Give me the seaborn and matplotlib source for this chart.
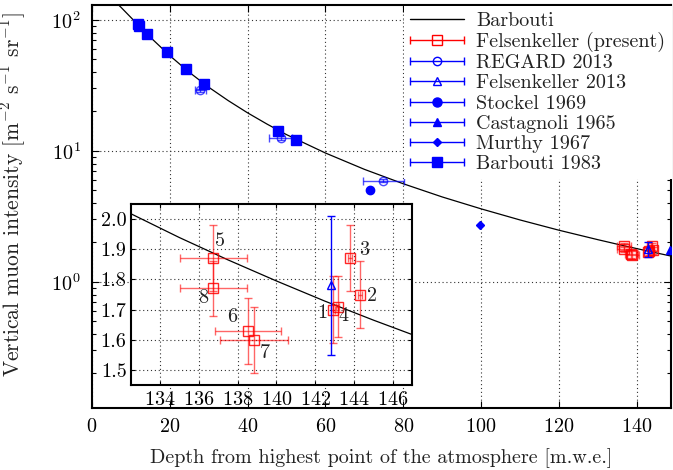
import numpy as np
import pandas as pd
import matplotlib
matplotlib.use("Agg")
import matplotlib.pyplot as plt
import seaborn as sns
from matplotlib.lines import Line2D
from matplotlib.legend_handler import HandlerBase
from matplotlib.ticker import MultipleLocator, FixedLocator

# ---------------- data ----------------
curve_depth = [0, 2.5, 5, 7.5, 10, 12.5, 15, 20, 25, 30, 35, 40, 45, 50, 60, 70, 80,
               90, 100, 110, 120, 130, 132.5, 135, 137.5, 140, 142.5, 145, 147.5, 150]
curve_int = [180.5, 167.6, 146.4, 124.3, 104.3, 87.5, 73.6, 53.3, 39.8, 30.6, 24.2,
             19.5, 16.0, 13.3, 9.63, 7.23, 5.61, 4.45, 3.61, 2.97, 2.48, 2.100, 2.018,
             1.939, 1.865, 1.795, 1.728, 1.665, 1.605, 1.547]

fk_labels = ["1", "2", "3", "4", "5", "6", "7", "8"]
fk_depth = [142.9, 144.3, 143.8, 143.15, 136.75, 138.55, 138.85, 136.75]
fk_int = [1.70, 1.75, 1.87, 1.71, 1.87, 1.63, 1.60, 1.77]
fk_ierr = [0.11, 0.11, 0.11, 0.10, 0.11, 0.11, 0.11, 0.09]
fk_derr = [0.1, 0.1, 0.1, 0.1, 1.72, 1.70, 1.74, 1.72]

regard_depth = [27.8, 48.5, 74.9]
regard_int = [28.9, 12.6, 5.94]
regard_derr = [1.4, 2.9, 5.3]
regard_ierr = [0.9, 0.4, 0.2]

fk13_depth = [142.8]
fk13_int = [1.78]
fk13_ierr = [0.23]

stockel_depth = [71.5]
stockel_int = [5.07]

castagnoli_depth = [148.6]
castagnoli_int = [1.74]

murthy_depth = [99.8]
murthy_int = [2.72]

barb83_depth = [11.7, 12.2, 14.2, 19.4, 24.2, 28.9, 47.7, 52.3]
barb83_int = [93.2, 89.5, 77.8, 56.6, 42.1, 32.3, 14.1, 12.1]

# label positions for the inset annotations (layout only)
label_xy = [(142.35, 1.688), (144.95, 1.746), (144.5, 1.898), (143.45, 1.677),
            (137.1, 1.928), (137.7, 1.675), (139.4, 1.556), (136.25, 1.738)]

# ---------------- style ----------------
sns.set_theme(style="ticks")
FS = 14.5
plt.rcParams.update({
    "font.family": ["cmr10", "DejaVu Serif"],
    "mathtext.fontset": "cm",
    "axes.formatter.use_mathtext": True,
    "font.size": FS,
    "axes.labelsize": FS,
    "xtick.labelsize": FS,
    "ytick.labelsize": FS,
    "legend.fontsize": FS,
    "axes.edgecolor": "black",
    "axes.linewidth": 1.5,
    "xtick.color": "black",
    "ytick.color": "black",
    "text.color": "#222222",
    "axes.labelcolor": "#222222",
})

RED = (1, 0, 0)
BLUE = (0, 0, 1)

fig = plt.figure(figsize=(6.73, 4.70), dpi=100)
ax = fig.add_axes([92 / 673, 1 - 408 / 470, (671 - 92) / 673, (408 - 4.5) / 470])

curve_df = pd.DataFrame({"depth": curve_depth, "intensity": curve_int})


def style_axes(a, major_len=5, minor_len=3):
    a.tick_params(which="both", direction="in", top=True, right=True,
                  color="black", width=0.8)
    a.tick_params(which="major", length=major_len)
    a.tick_params(which="minor", length=minor_len)
    a.grid(True, which="major", linestyle=(0, (1, 2.5)), color="#333333", lw=0.8)
    a.set_facecolor("white")
    for s in a.spines.values():
        s.set_linewidth(1.5)
        s.set_color("black")


def draw_points(a):
    # Felsenkeller (present)
    a.errorbar(fk_depth, fk_int, yerr=fk_ierr, xerr=fk_derr, fmt="s", ms=7.2,
               mfc="none", mec=(1, 0, 0, 0.85), mew=1.0, ecolor=(1, 0, 0, 0.6),
               elinewidth=1.0, capsize=3, capthick=1.0, zorder=4)
    # Felsenkeller 2013
    a.errorbar(fk13_depth, fk13_int, yerr=fk13_ierr, fmt="^", ms=6,
               mfc="none", mec=BLUE, mew=1.0, ecolor=BLUE, elinewidth=1.0,
               capsize=3, capthick=1.0, zorder=5)


sns.lineplot(data=curve_df, x="depth", y="intensity", ax=ax, color="black", lw=0.9,
             zorder=3, legend=False)
draw_points(ax)
ax.errorbar(regard_depth, regard_int, yerr=regard_ierr, xerr=regard_derr, fmt="o", ms=6,
            mfc="none", mec=(0, 0, 1, 0.7), mew=1.0, ecolor=(0, 0, 1, 0.7),
            elinewidth=1.0, capsize=3, zorder=4)
ax.plot(stockel_depth, stockel_int, "o", ms=6, color=BLUE, zorder=4)
ax.plot(castagnoli_depth, castagnoli_int, "^", ms=5.5, color=BLUE, zorder=4)
ax.plot(murthy_depth, murthy_int, "D", ms=4.5, color=BLUE, zorder=4)
ax.plot(barb83_depth, barb83_int, "s", ms=6.5, color=BLUE, zorder=4)

ax.set_yscale("log")
ax.set_xlim(0, 148.8)
ax.set_ylim(0.109, 131)
ax.xaxis.set_major_locator(MultipleLocator(20))
style_axes(ax)
ax.tick_params(axis="x", which="major", pad=7)
ax.tick_params(axis="y", which="major", pad=8)
ax.set_xlabel("Depth from highest point of the atmosphere [m.w.e.]", labelpad=9)
ax.set_ylabel(r"Vertical muon intensity [m$^{-2}$ s$^{-1}$ sr$^{-1}$]", fontsize=15.5)
ax.yaxis.set_label_coords(-(92 - 28) / 579, (408 - 195) / 403.5)


# ---------------- legend ----------------
class HandlerXErr(HandlerBase):
    def create_artists(self, legend, orig_handle, xdescent, ydescent, width, height,
                       fontsize, trans):
        y = height / 2 - ydescent
        x0, x1 = -xdescent, -xdescent + width
        c = orig_handle.get_color()
        bar = Line2D([x0, x1], [y, y], color=c, lw=1.0)
        caps = Line2D([x0, x1], [y, y], ls="none", marker="|", ms=6, mew=1.0, color=c)
        mk = Line2D([(x0 + x1) / 2], [y], ls="none", marker=orig_handle.get_marker(),
                    ms=orig_handle.get_markersize(), mfc=orig_handle.get_markerfacecolor(),
                    mec=orig_handle.get_markeredgecolor(), mew=1.0)
        arts = [bar, caps, mk]
        for a_ in arts:
            a_.set_transform(trans)
        return arts


h_curve = Line2D([], [], color="black", lw=1.0)
proxies = [
    Line2D([], [], color=RED, marker="s", ms=7.2, mfc="none", mec=RED),
    Line2D([], [], color=BLUE, marker="o", ms=6, mfc="none", mec=BLUE),
    Line2D([], [], color=BLUE, marker="^", ms=6, mfc="none", mec=BLUE),
    Line2D([], [], color=BLUE, marker="o", ms=6.5, mfc=BLUE, mec=BLUE),
    Line2D([], [], color=BLUE, marker="^", ms=5.5, mfc=BLUE, mec=BLUE),
    Line2D([], [], color=BLUE, marker="D", ms=4.5, mfc=BLUE, mec=BLUE),
    Line2D([], [], color=BLUE, marker="s", ms=7, mfc=BLUE, mec=BLUE),
]
names = ["Barbouti", "Felsenkeller (present)", "REGARD 2013", "Felsenkeller 2013",
         "Stockel 1969", "Castagnoli 1965", "Murthy 1967", "Barbouti 1983"]
hmap = {p: HandlerXErr() for p in proxies}
leg = ax.legend([h_curve] + proxies, names, handler_map=hmap, loc="upper left",
                bbox_to_anchor=(404 / 673, 1 - 6 / 470), bbox_transform=fig.transFigure,
                borderaxespad=0, borderpad=0.3, labelspacing=0.1, handlelength=2.7,
                handletextpad=0.6, frameon=True, fancybox=False, framealpha=1,
                facecolor="white", edgecolor="none")
leg.set_zorder(10)
for t in leg.get_texts():
    t.set_color("#222222")

# ---------------- inset ----------------
axin = fig.add_axes([130.7 / 673, 1 - 385 / 470, (412.3 - 130.7) / 673, (385 - 204) / 470])
axin.set_zorder(6)
sns.lineplot(data=curve_df, x="depth", y="intensity", ax=axin, color="black", lw=0.9,
             zorder=3, legend=False)
draw_points(axin)
for lab, (lx, ly) in zip(fk_labels, label_xy):
    axin.text(lx, ly, lab, ha="center", va="center", fontsize=FS, color="#222222",
              zorder=7)
axin.set_xlim(132.5, 147)
axin.set_ylim(1.45, 2.05)
axin.xaxis.set_major_locator(MultipleLocator(2))
axin.yaxis.set_major_locator(FixedLocator([1.5, 1.6, 1.7, 1.8, 1.9, 2.0]))
axin.yaxis.set_major_formatter(matplotlib.ticker.FormatStrFormatter("%.1f"))
style_axes(axin, major_len=3)
axin.tick_params(axis="x", which="major", pad=4)
axin.tick_params(axis="y", which="major", pad=3)
axin.set_xlabel("")
axin.set_ylabel("")

fig.savefig("out.png", dpi=100)
